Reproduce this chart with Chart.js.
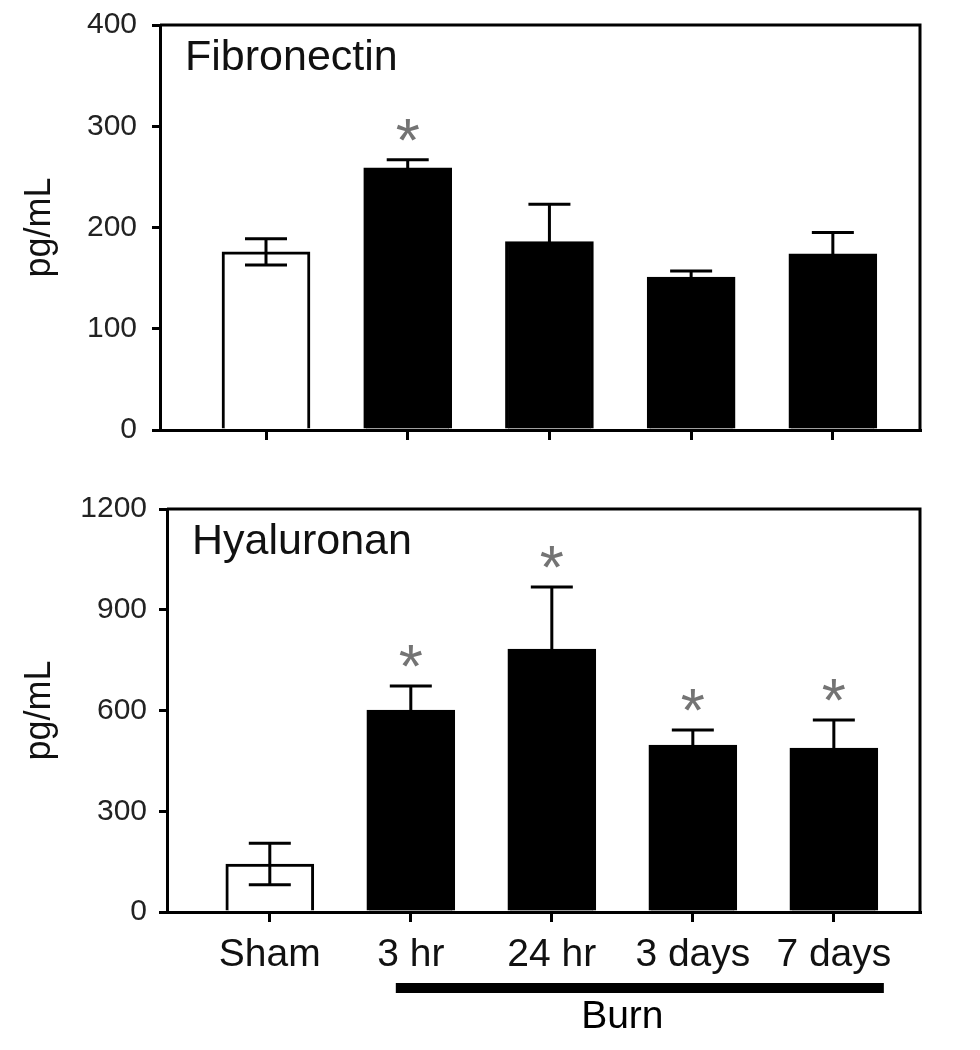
<!DOCTYPE html>
<html>
<head>
<meta charset="utf-8">
<script src="https://cdn.jsdelivr.net/npm/chart.js@4.4.1/dist/chart.umd.min.js"></script>
<style>
  html, body { margin:0; padding:0; background:#fff; }
  #wrap { position:relative; width:980px; height:1050px; }
  #top-box { position:absolute; left:0; top:0; }
  #bot-box { position:absolute; left:0; top:470px; }
</style>
</head>
<body>
<div id="wrap">
  <div id="top-box"><canvas id="fibChart" width="980" height="470"></canvas></div>
  <div id="bot-box"><canvas id="hyaChart" width="980" height="580"></canvas></div>
</div>
<script>
// ── DATA ────────────────────────────────────────────────
const groups  = ['Sham', '3 hr', '24 hr', '3 days', '7 days'];
const barFill = ['#ffffff', '#000000', '#000000', '#000000', '#000000'];

const fibMean = [176, 259, 186, 151, 174];
const fibErr  = [13, 8, 37, 6, 21];
const fibSig  = [false, true, false, false, false];
const fibMax  = 400;
const fibStep = 100;

const hyaMean = [143, 601, 783, 497, 488];
const hyaErr  = [62, 72, 185, 45, 84];
const hyaSig  = [false, true, true, true, true];
const hyaMax  = 1200;
const hyaStep = 300;

const burnFrom = 1, burnTo = 4;

Chart.defaults.font.family = '"Liberation Sans", Arial, sans-serif';
Chart.defaults.color = '#111';

// ── DECOR PLUGIN (error bars, stars, frame, panel title) ─
const decor = (cfg) => ({
  id: 'decor',
  afterDatasetsDraw(chart) {
    const { ctx, chartArea: a, scales: { x, y } } = chart;
    const bars = chart.getDatasetMeta(0).data;
    ctx.save();
    ctx.strokeStyle = '#000';
    ctx.lineWidth = 3;
    bars.forEach((bar, i) => {
      const hi = y.getPixelForValue(cfg.mean[i] + cfg.err[i]);
      const lo = y.getPixelForValue(cfg.mean[i] - cfg.err[i]);
      ctx.beginPath();
      ctx.moveTo(bar.x, lo); ctx.lineTo(bar.x, hi);
      ctx.moveTo(bar.x - 21, hi); ctx.lineTo(bar.x + 21, hi);
      ctx.moveTo(bar.x - 21, lo); ctx.lineTo(bar.x + 21, lo);
      ctx.stroke();
      if (cfg.sig[i]) {
        ctx.fillStyle = '#747474';
        ctx.font = '62px "Liberation Sans"';
        ctx.textAlign = 'center';
        ctx.textBaseline = 'alphabetic';
        ctx.fillText('*', bar.x, hi + 1);
      }
    });
    // box top + right
    ctx.beginPath();
    ctx.moveTo(a.left, a.top);
    ctx.lineTo(a.right, a.top);
    ctx.lineTo(a.right, a.bottom);
    ctx.stroke();
    // panel title
    ctx.fillStyle = '#111';
    ctx.font = '43px "Liberation Sans"';
    ctx.textAlign = 'left';
    ctx.textBaseline = 'alphabetic';
    ctx.fillText(cfg.title, a.left + 25, a.top + 45);
    // burn bracket
    if (cfg.burn) {
      const x1 = x.getPixelForValue(burnFrom) - 15;
      const x2 = x.getPixelForValue(burnTo) + 50;
      ctx.fillStyle = '#000';
      ctx.fillRect(x1, a.bottom + 71, x2 - x1, 10);
      ctx.font = '39px "Liberation Sans"';
      ctx.textAlign = 'center';
      ctx.fillText('Burn', (x.getPixelForValue(burnFrom) + x.getPixelForValue(burnTo)) / 2, a.bottom + 116);
    }
    ctx.restore();
  }
});

const makeChart = (id, cfg) => {
  const ctx = document.getElementById(id).getContext('2d');
  return new Chart(ctx, {
    type: 'bar',
    data: {
      datasets: [{
        data: cfg.mean.map((v, i) => ({ x: i, y: v })),
        backgroundColor: barFill,
        borderColor: '#000',
        borderWidth: 3,
        barThickness: 88,
      }]
    },
    options: {
      responsive: false,
      animation: false,
      devicePixelRatio: 1,
      layout: { padding: { left: 10, right: 60, top: cfg.padTop, bottom: 0 } },
      plugins: { legend: { display: false }, tooltip: { enabled: false } },
      scales: {
        x: {
          type: 'linear',
          offset: false,
          min: cfg.xMin, max: cfg.xMax,
          afterBuildTicks: (s) => { s.ticks = groups.map((_, i) => ({ value: i })); },
          afterFit: (s) => { s.height = cfg.xHeight; },
          grid: { offset: false, drawOnChartArea: false, drawTicks: true, tickLength: 10, lineWidth: 3, color: '#000' },
          border: { display: true, color: '#000', width: 3 },
          ticks: {
            display: cfg.showLabels,
            autoSkip: false, maxRotation: 0,
            padding: 10,
            color: '#111',
            font: { size: 39 },
            callback: (v) => groups[v] ?? '',
          },
        },
        y: {
          min: 0, max: cfg.max,
          afterFit: (s) => { s.width = cfg.yWidth; s.paddingTop = 0; },
          grid: { drawOnChartArea: false, drawTicks: true, tickLength: 8, lineWidth: 3, color: '#000' },
          border: { display: true, color: '#000', width: 3 },
          ticks: { stepSize: cfg.step, padding: cfg.tickPad, color: '#222', font: { size: 30 }, callback: (v) => String(v) },
          title: { display: true, text: 'pg/mL', color: '#111', font: { size: 36 }, padding: { top: 8, bottom: 0 } },
        }
      }
    },
    plugins: [decor(cfg)]
  });
};

// ── START ───────────────────────────────────────────────
makeChart('fibChart', {
  mean: fibMean, err: fibErr, sig: fibSig, title: 'Fibronectin',
  max: fibMax, step: fibStep, padTop: 25, xHeight: 40, yWidth: 150, tickPad: 15,
  xMin: -0.748, xMax: 4.615, showLabels: false, burn: false,
});
makeChart('hyaChart', {
  mean: hyaMean, err: hyaErr, sig: hyaSig, title: 'Hyaluronan',
  max: hyaMax, step: hyaStep, padTop: 39, xHeight: 138, yWidth: 157, tickPad: 12,
  xMin: -0.729, xMax: 4.611, showLabels: true, burn: true,
});
</script>
</body>
</html>
